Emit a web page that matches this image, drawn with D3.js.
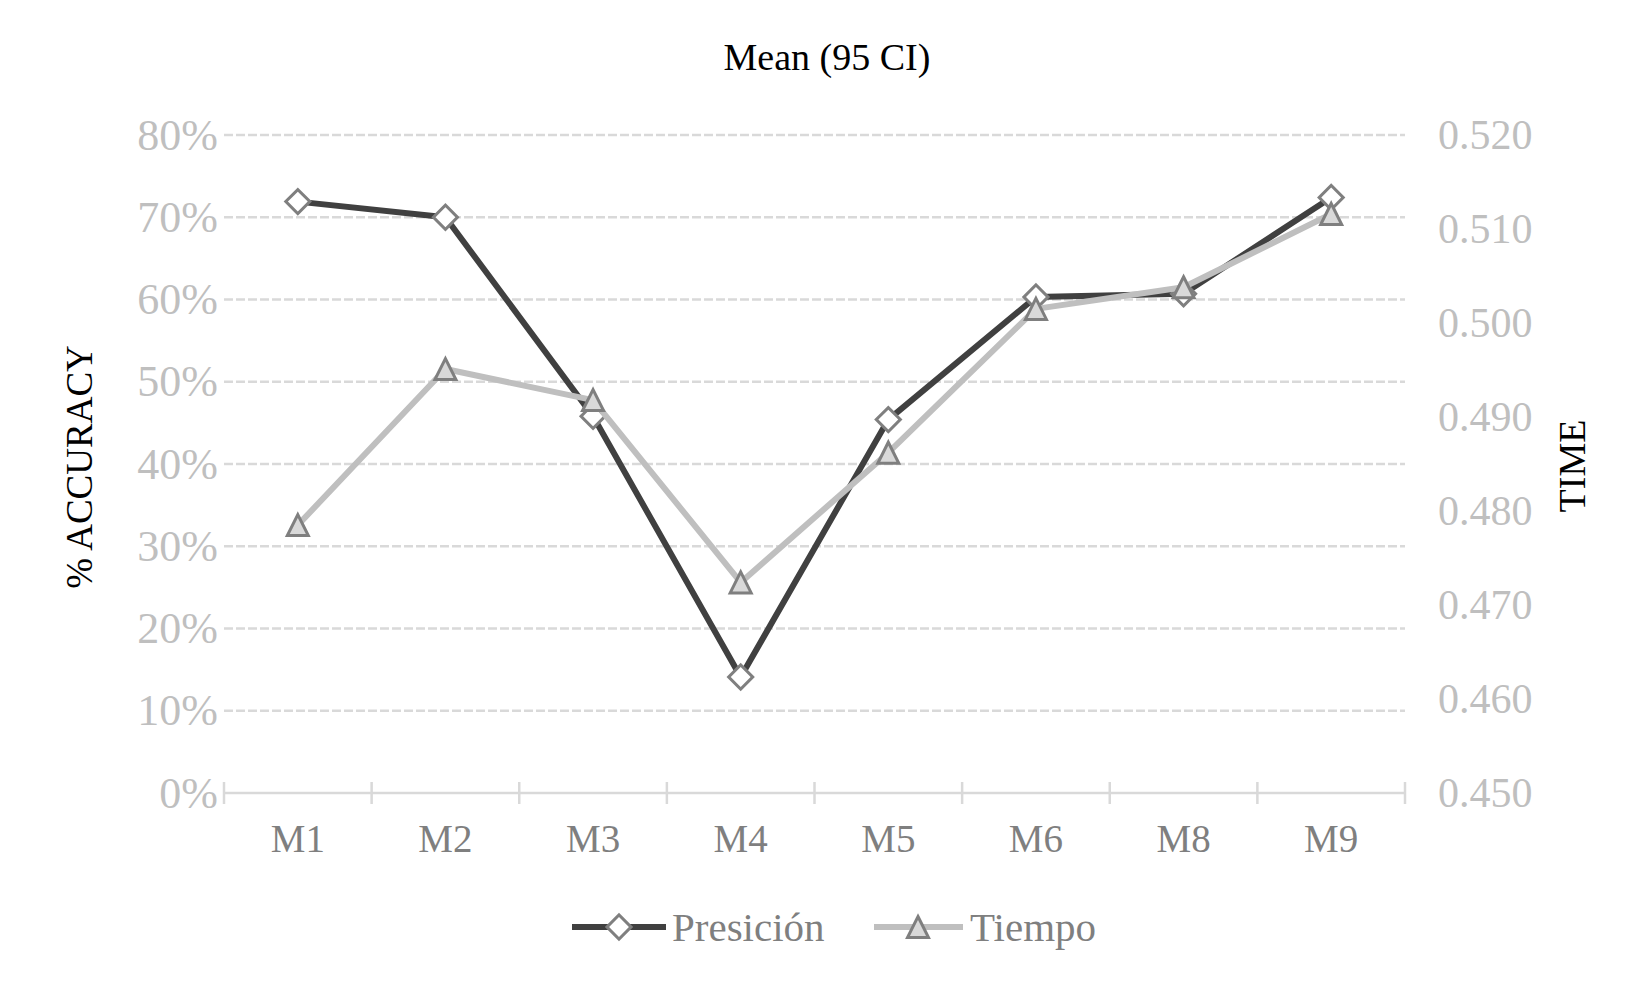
<!DOCTYPE html>
<html>
<head>
<meta charset="utf-8">
<script src="https://cdn.jsdelivr.net/npm/d3@7"></script>
<style>
  html, body { margin: 0; padding: 0; background: #fff; }
  svg { display: block; font-family: "Liberation Serif", "Times New Roman", serif; }
</style>
</head>
<body>
<svg id="chart" width="1650" height="990"></svg>
<script>
const categories = ["M1", "M2", "M3", "M4", "M5", "M6", "M8", "M9"];
const precision = [0.719, 0.700, 0.458, 0.141, 0.454, 0.603, 0.607, 0.724];
const tiempo = [0.4785, 0.4951, 0.4918, 0.4724, 0.4862, 0.5015, 0.5038, 0.5116];
const leftTicks = [0, 0.1, 0.2, 0.3, 0.4, 0.5, 0.6, 0.7, 0.8];
const rightTicks = [0.45, 0.46, 0.47, 0.48, 0.49, 0.50, 0.51, 0.52];
const seriesNames = ["Presición", "Tiempo"];
const chartTitle = "Mean (95 CI)";
const leftTitle = "% ACCURACY";
const rightTitle = "TIME";

(function () {
const svg = d3.select("#chart");
const pLeft = 224, pRight = 1405, pTop = 135, pBottom = 793;

const x = d3.scaleBand().domain(categories).range([pLeft, pRight]);
const cx = c => x(c) + x.bandwidth() / 2;
const yL = d3.scaleLinear().domain([0, 0.8]).range([pBottom, pTop]);
const yR = d3.scaleLinear().domain([0.45, 0.52]).range([pBottom, pTop]);

// title
svg.append("text").attr("x", 827).attr("y", 70).attr("text-anchor", "middle")
  .attr("font-size", 38).attr("fill", "#000").text(chartTitle);

// gridlines
svg.append("g").selectAll("line").data(leftTicks.filter(d => d > 0)).join("line")
  .attr("x1", pLeft).attr("x2", pRight)
  .attr("y1", d => yL(d)).attr("y2", d => yL(d))
  .attr("stroke", "#d9d9d9").attr("stroke-width", 2.5).attr("stroke-dasharray", "9,3");

// left axis labels
const gL = svg.append("g").attr("transform", `translate(${pLeft - 6},0)`)
  .call(d3.axisLeft(yL).tickValues(leftTicks).tickFormat(d3.format(".0%")).tickSize(0).tickPadding(0));
gL.select(".domain").remove();
gL.selectAll("text").attr("font-size", 44).attr("fill", "#bfbfbf")
  .attr("font-family", "Liberation Serif, serif");

// right axis labels
const gR = svg.append("g").attr("transform", `translate(${pRight + 33},0)`)
  .call(d3.axisRight(yR).tickValues(rightTicks).tickFormat(d3.format(".3f")).tickSize(0).tickPadding(0));
gR.select(".domain").remove();
gR.selectAll("text").attr("font-size", 42).attr("fill", "#bfbfbf")
  .attr("font-family", "Liberation Serif, serif");

// x axis
const gX = svg.append("g").attr("transform", `translate(0,${pBottom})`)
  .call(d3.axisBottom(x).tickSize(0).tickPadding(0));
gX.select(".domain").remove();
gX.selectAll("text").attr("font-size", 39).attr("fill", "#7f7f7f")
  .attr("dy", "0").attr("y", 59)
  .attr("font-family", "Liberation Serif, serif");
svg.append("line").attr("x1", pLeft).attr("x2", pRight).attr("y1", pBottom).attr("y2", pBottom)
  .attr("stroke", "#d9d9d9").attr("stroke-width", 2.5);
const bounds = categories.map(c => x(c)).concat([pRight]);
svg.append("g").selectAll("line").data(bounds).join("line")
  .attr("x1", d => d).attr("x2", d => d).attr("y1", pBottom - 11).attr("y2", pBottom + 11)
  .attr("stroke", "#d9d9d9").attr("stroke-width", 2.5);

// axis titles
svg.append("text").attr("transform", `translate(92,467) rotate(-90)`)
  .attr("text-anchor", "middle").attr("font-size", 37).attr("fill", "#000").text(leftTitle);
svg.append("text").attr("transform", `translate(1585,466) rotate(-90)`)
  .attr("text-anchor", "middle").attr("font-size", 38).attr("fill", "#000").text(rightTitle);

const diamond = d3.symbol().type(d3.symbolSquare).size(290);
const triPath = (s) => `M0,${-s/2}L${s/2},${s/2}L${-s/2},${s/2}Z`;

// Presición
svg.append("path").datum(precision)
  .attr("d", d3.line().x((d, i) => cx(categories[i])).y(d => yL(d)))
  .attr("fill", "none").attr("stroke", "#404040").attr("stroke-width", 6).attr("stroke-linejoin", "round");
svg.append("g").selectAll("path").data(precision).join("path")
  .attr("d", diamond)
  .attr("transform", (d, i) => `translate(${cx(categories[i])},${yL(d)}) rotate(45)`)
  .attr("fill", "#fff").attr("stroke", "#7f7f7f").attr("stroke-width", 3);

// Tiempo
svg.append("path").datum(tiempo)
  .attr("d", d3.line().x((d, i) => cx(categories[i])).y(d => yR(d)))
  .attr("fill", "none").attr("stroke", "#bfbfbf").attr("stroke-width", 6).attr("stroke-linejoin", "round");
svg.append("g").selectAll("path").data(tiempo).join("path")
  .attr("d", triPath(21))
  .attr("transform", (d, i) => `translate(${cx(categories[i])},${yR(d)})`)
  .attr("fill", "#d9d9d9").attr("stroke", "#7f7f7f").attr("stroke-width", 3).attr("stroke-linejoin", "miter");

// legend
const ly = 927;
const lg = svg.append("g");
lg.append("line").attr("x1", 572).attr("x2", 666).attr("y1", ly).attr("y2", ly)
  .attr("stroke", "#404040").attr("stroke-width", 6);
lg.append("path").attr("d", diamond).attr("transform", `translate(619,${ly}) rotate(45)`)
  .attr("fill", "#fff").attr("stroke", "#7f7f7f").attr("stroke-width", 3);
lg.append("text").attr("x", 672).attr("y", ly).attr("dy", "0.33em").attr("font-size", 41)
  .attr("fill", "#7f7f7f").text(seriesNames[0]);
lg.append("line").attr("x1", 874).attr("x2", 963).attr("y1", ly).attr("y2", ly)
  .attr("stroke", "#bfbfbf").attr("stroke-width", 6);
lg.append("path").attr("d", triPath(21)).attr("transform", `translate(918,${ly})`)
  .attr("fill", "#d9d9d9").attr("stroke", "#7f7f7f").attr("stroke-width", 3);
lg.append("text").attr("x", 970).attr("y", ly).attr("dy", "0.33em").attr("font-size", 41)
  .attr("fill", "#7f7f7f").text(seriesNames[1]);
})();
</script>
</body>
</html>
